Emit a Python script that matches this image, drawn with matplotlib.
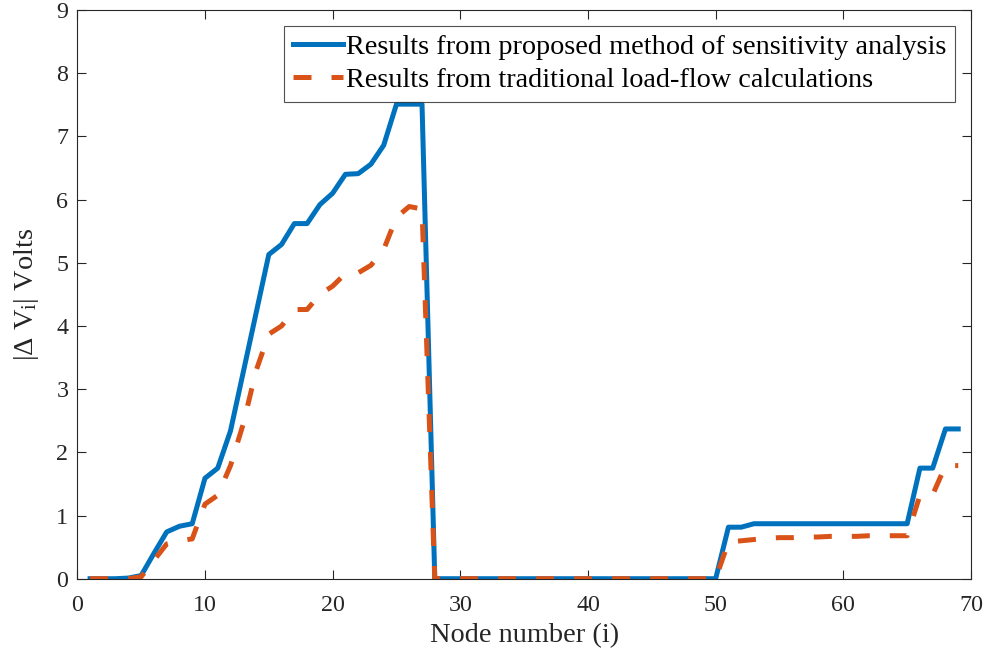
import numpy as np
import matplotlib
matplotlib.use('Agg')
import matplotlib.pyplot as plt

plt.rcParams['font.family'] = ['Liberation Serif', 'DejaVu Serif']
plt.rcParams['mathtext.fontset'] = 'custom'
plt.rcParams['mathtext.rm'] = 'Liberation Serif'
plt.rcParams['mathtext.it'] = 'Liberation Serif:italic'

# node numbers 1..69
nodes = list(range(1, 70))

# proposed sensitivity method (blue)
sens = [0, 0, 0, 0.01, 0.05, 0.40, 0.74, 0.83, 0.87, 1.59,
        1.75, 2.34, 3.27, 4.20, 5.13, 5.29, 5.62, 5.62, 5.92, 6.10,
        6.40, 6.41, 6.56, 6.86, 7.51, 7.51, 7.51, 0, 0, 0,
        0, 0, 0, 0, 0, 0, 0, 0, 0, 0,
        0, 0, 0, 0, 0, 0, 0, 0, 0, 0,
        0.815, 0.815, 0.87, 0.87, 0.87, 0.87, 0.87, 0.87, 0.87, 0.87,
        0.87, 0.87, 0.87, 0.87, 0.87, 1.75, 1.75, 2.37, 2.37]

# traditional load-flow (orange dashed)
loadflow = [0, 0, 0, 0, 0.03, 0.29, 0.55, 0.60, 0.63, 1.18,
            1.32, 1.79, 2.45, 3.29, 3.87, 4.00, 4.26, 4.26, 4.50, 4.63,
            4.83, 4.84, 4.96, 5.21, 5.72, 5.89, 5.85, 0, 0, 0,
            0, 0, 0, 0, 0, 0, 0, 0, 0, 0,
            0, 0, 0, 0, 0, 0, 0, 0, 0, 0,
            0.58, 0.60, 0.62, 0.64, 0.65, 0.65, 0.66, 0.66, 0.67, 0.67,
            0.67, 0.68, 0.68, 0.68, 0.68, 1.32, 1.33, 1.79, 1.79]

fig = plt.figure(figsize=(9.87, 6.56), dpi=100)
ax = fig.add_axes([77.3 / 987, 1 - 578.7 / 656, (971 - 77.3) / 987, (578.7 - 10) / 656])

ax.plot(nodes, sens, color='#0072BD', lw=3.6,
        label='Results from proposed method of sensitivity analysis')
ax.plot(nodes, loadflow, color='#D95319', lw=3.6, ls=(0, (3.6, 4.0)),
        label='Results from traditional load-flow calculations')

ax.set_xlim(0, 70)
ax.set_ylim(0, 9)
ax.set_xticks(range(0, 71, 10))
ax.set_yticks(range(0, 10))
ax.tick_params(direction='in', top=True, right=True, labelsize=17.3,
               color='#262626', labelcolor='#262626', length=6.5, width=0.8)
ax.tick_params(axis='x', pad=11.5)
ax.tick_params(axis='y', pad=6.5)
for s in ax.spines.values():
    s.set_color('#262626')
    s.set_linewidth(0.8)

ax.set_xlabel('Node number (i)', fontsize=20.4, color='#262626', labelpad=5.5)
ax.set_ylabel(r'$|\Delta$ V$_\mathrm{i}$| Volts', fontsize=20.4, color='#262626', labelpad=11)

leg = ax.legend(loc='upper right', fontsize=20.3, frameon=True, fancybox=False,
                edgecolor='#262626', handlelength=1.8, handletextpad=0.1,
                borderpad=0.3, labelspacing=0.25, borderaxespad=0.57)
leg.get_frame().set_linewidth(0.8)

fig.savefig('out.png', dpi=100)
